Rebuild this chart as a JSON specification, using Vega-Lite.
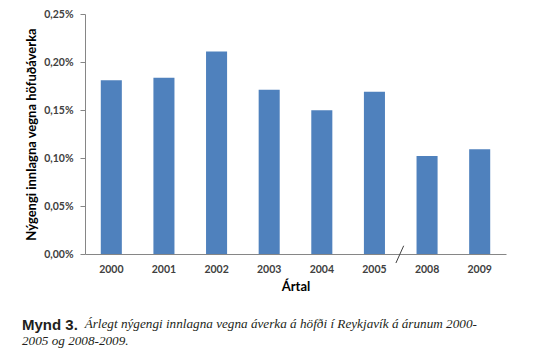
{
  "$schema": "https://vega.github.io/schema/vega-lite/v6.json",
  "width": 421,
  "height": 240,
  "autosize": "none",
  "padding": {"left": 85, "top": 14, "right": 44, "bottom": 100},
  "background": "white",
  "config": {"view": {"stroke": null}},
  "title": {
    "text": "Mynd 3.",
    "subtitle": ["\u200b\u00a0\u00a0\u00a0\u00a0\u00a0\u00a0\u00a0\u00a0\u00a0\u00a0\u00a0\u00a0\u00a0\u00a0\u00a0\u00a0\u00a0\u00a0\u00a0Árlegt nýgengi innlagna vegna áverka á höfði í Reykjavík á árunum 2000-", "2005 og 2008-2009."],
    "orient": "bottom",
    "anchor": "start",
    "frame": "group",
    "dx": -63,
    "offset": 24,
    "font": "Liberation Sans",
    "fontWeight": "bold",
    "fontSize": 15,
    "color": "#231f20",
    "subtitleFont": "Liberation Serif",
    "subtitleFontStyle": "italic",
    "subtitleFontSize": 13.2,
    "subtitleColor": "#231f20",
    "subtitlePadding": -15,
    "subtitleLineHeight": 17
  },
  "layer": [
    {
      "data": {"values": [
        {"year": "2000", "rate": 0.181},
        {"year": "2001", "rate": 0.1837},
        {"year": "2002", "rate": 0.211},
        {"year": "2003", "rate": 0.171},
        {"year": "2004", "rate": 0.1497},
        {"year": "2005", "rate": 0.169},
        {"year": "2008", "rate": 0.102},
        {"year": "2009", "rate": 0.109}
      ]},
      "mark": {"type": "bar", "color": "#4F81BD"},
      "encoding": {
        "x": {
          "field": "year", "type": "nominal",
          "scale": {"domain": ["2000","2001","2002","2003","2004","2005","2008","2009"], "paddingInner": 0.6, "paddingOuter": 0.3},
          "axis": {
            "title": "Ártal", "titleFont": "Lato", "titleFontSize": 13, "titleFontWeight": "bold", "titleColor": "#000000", "titlePadding": 6,
            "labelFont": "Lato", "labelFontSize": 10.5, "labelFontWeight": "bold", "labelColor": "#404040", "labelAngle": 0, "labelPadding": 10,
            "ticks": false, "domainColor": "#868686", "domainWidth": 1
          }
        },
        "y": {
          "field": "rate", "type": "quantitative",
          "scale": {"domain": [0, 0.25], "nice": false},
          "axis": {
            "title": "Nýgengi innlagna vegna höfuðáverka", "titleFont": "Lato", "titleFontSize": 13, "titleFontWeight": "bold", "titleColor": "#000000", "titlePadding": 5,
            "values": [0, 0.05, 0.1, 0.15, 0.2, 0.25],
            "labelExpr": "replace(format(datum.value, '.2f'), '.', ',') + '%'",
            "labelFont": "Lato", "labelFontSize": 10.5, "labelFontWeight": "bold", "labelColor": "#404040", "labelPadding": 7,
            "tickSize": 5, "tickColor": "#868686", "domainColor": "#868686", "grid": false
          }
        }
      }
    },
    {
      "data": {"values": [{"from": "2005", "to": "2008", "lo": -0.0094, "hi": 0.0086}]},
      "mark": {"type": "rule", "color": "#404040", "strokeWidth": 1},
      "encoding": {
        "x": {"field": "from", "type": "nominal", "bandPosition": 1.52},
        "x2": {"field": "to", "bandPosition": -0.61},
        "y": {"field": "lo", "type": "quantitative"},
        "y2": {"field": "hi"}
      }
    }
  ]
}
